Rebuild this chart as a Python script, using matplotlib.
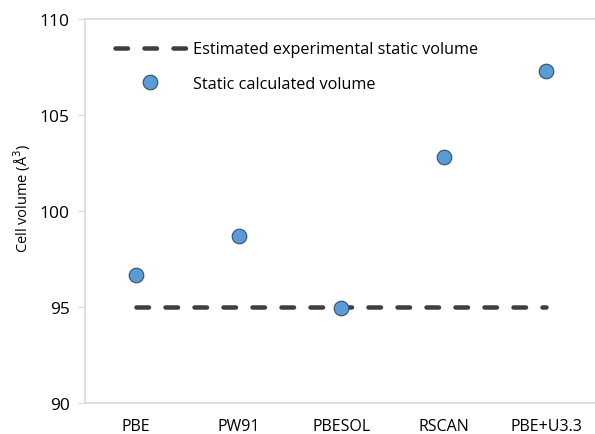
import matplotlib.pyplot as plt

plt.rcParams['font.family'] = ['Open Sans', 'DejaVu Sans']

methods = ["PBE", "PW91", "PBESOL", "RSCAN", "PBE+U3.3"]
calc_volume = [96.65, 98.7, 94.95, 102.8, 107.3]
exp_volume = [95.0, 95.0, 95.0, 95.0, 95.0]

W, H = 595, 435
fig = plt.figure(figsize=(W / 100, H / 100), dpi=100)
# plot area runs slightly past the right edge, as in the original export
ax = fig.add_axes([85 / W, (H - 404) / H, 512.5 / W, 384 / H])

x = list(range(len(methods)))
lw_px = 4.5
line, = ax.plot(x, exp_volume, color="#3f3f3f", lw=lw_px * 0.72,
                dash_capstyle="round", label="Estimated experimental static volume")
line.set_dashes([(17 - lw_px) / lw_px, (12 + lw_px) / lw_px])
ax.plot(x, calc_volume, "o", ms=10.5, mfc="#5b9bd5", mec="#2f4f6f", mew=0.8,
        label="Static calculated volume", zorder=3)

ax.set_xlim(-0.5, 4.5)
ax.set_ylim(90, 110)
ax.set_yticks([90, 95, 100, 105, 110])
ax.set_xticks(x)
ax.set_xticklabels(methods)
ax.tick_params(axis="x", length=0, pad=11, labelsize=11.5)
ax.tick_params(axis="y", length=5, color="#d9d9d9", pad=6, labelsize=12.5)
for s in ["top", "bottom", "left"]:
    ax.spines[s].set_color("#d9d9d9")
    ax.spines[s].set_linewidth(1.2)
ax.spines["right"].set_visible(False)

ax.set_ylabel("Cell volume (Å$^3$)", fontsize=10.5)
ax.yaxis.set_label_coords(-0.102, 0.536)

ax.legend(loc="upper left", bbox_to_anchor=(0.03, 0.98), frameon=False,
          fontsize=11.7, handlelength=4.35, handletextpad=0.45, labelspacing=1.15)

fig.savefig("out.png", dpi=100)
